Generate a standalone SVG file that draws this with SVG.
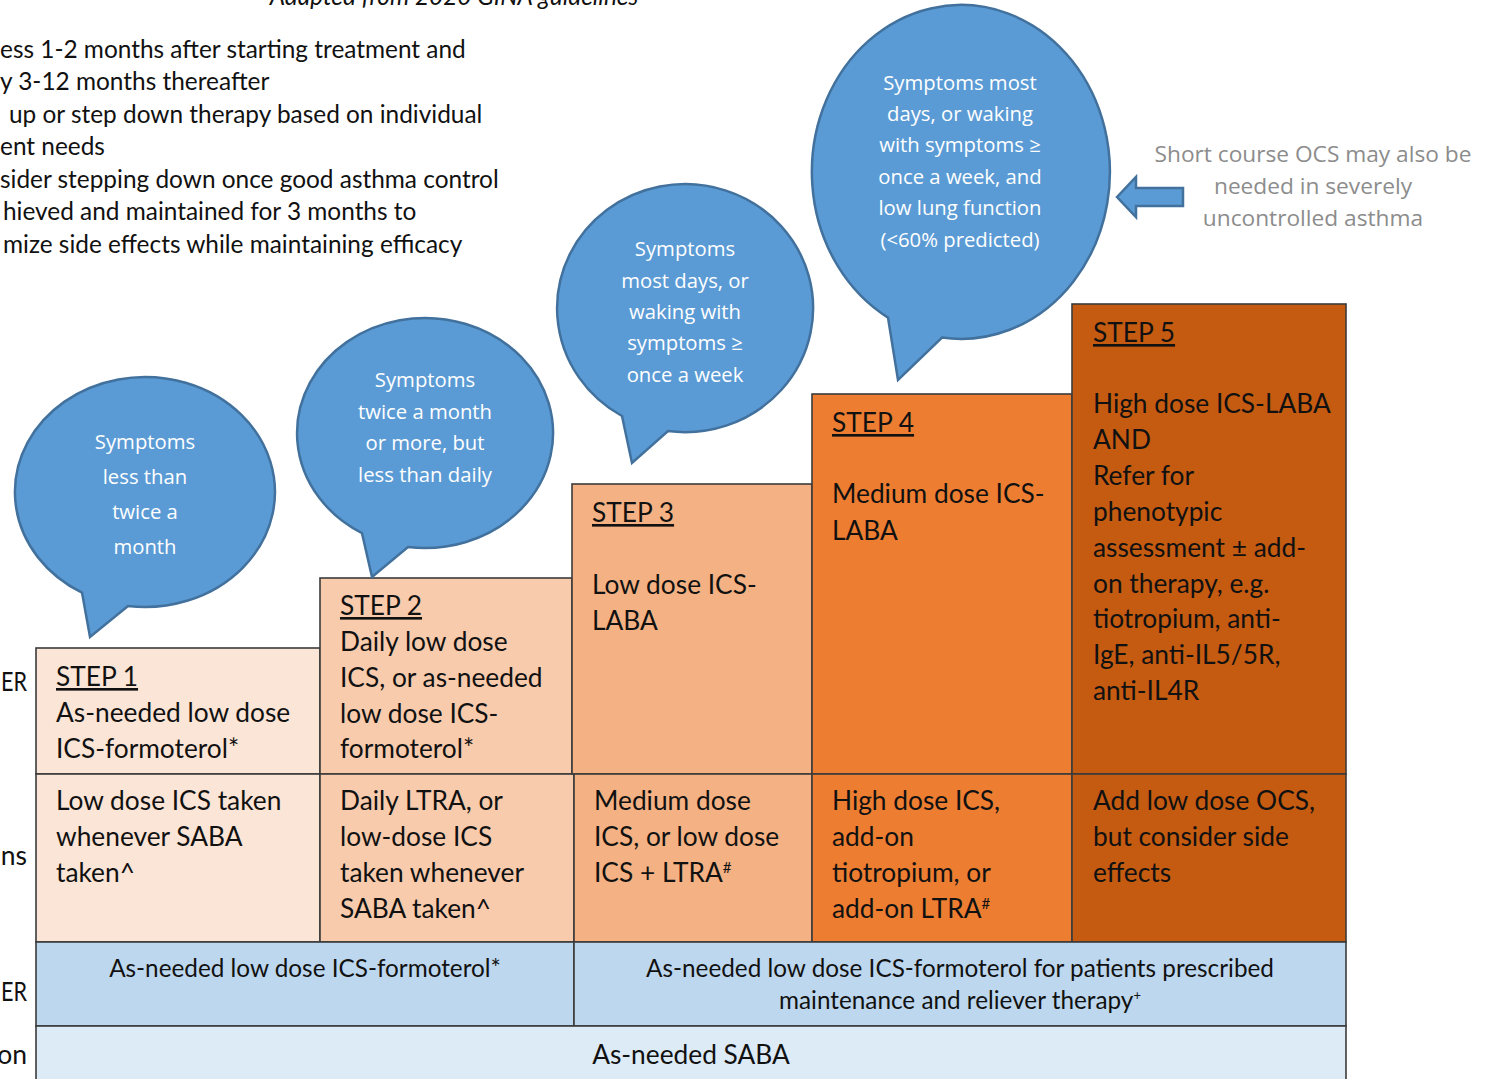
<svg xmlns="http://www.w3.org/2000/svg" width="1487" height="1079" viewBox="0 0 1487 1079">
<defs>
<style>
.box{stroke:#3b3b3b;stroke-width:1.6}
.t{font-family:Lato,"Liberation Sans",sans-serif;font-size:26.3px;fill:#111}
.s{text-decoration:underline}
.sm{font-family:Lato,"Liberation Sans",sans-serif;font-size:24.3px;fill:#111;text-anchor:middle}
.b{font-family:"Open Sans","Liberation Sans",sans-serif;font-size:20.3px;fill:#fff;text-anchor:middle}
.bub{fill:#5B9BD5;stroke:#41719C;stroke-width:2.5}
.g{font-family:"Open Sans","Liberation Sans",sans-serif;font-size:22.7px;fill:#8c8c8c;text-anchor:middle}
.top{font-family:Lato,"Liberation Sans",sans-serif;font-size:24.4px;fill:#111}
.edge{font-family:Lato,"Liberation Sans",sans-serif;font-size:26.5px;fill:#111;text-anchor:end}
</style>
</defs>
<rect width="1487" height="1079" fill="#fff"/>

<g id="header">
<text class="top" x="454" y="5" text-anchor="middle" font-style="italic">Adapted from 2020 GINA guidelines</text>
<text class="top" x="0" y="58">ess 1-2 months after starting treatment and</text>
<text class="top" x="0" y="90">y 3-12 months thereafter</text>
<text class="top" x="9" y="123">up or step down therapy based on individual</text>
<text class="top" x="0" y="155">ent needs</text>
<text class="top" x="0" y="188">sider stepping down once good asthma control</text>
<text class="top" x="3" y="220">hieved and maintained for 3 months to</text>
<text class="top" x="3" y="253">mize side effects while maintaining efficacy</text>
</g>

<g id="row-labels">
<text class="edge" x="27" y="691" textLength="26" lengthAdjust="spacingAndGlyphs">ER</text>
<text class="edge" x="27" y="865">ns</text>
<text class="edge" x="27" y="1001" textLength="26" lengthAdjust="spacingAndGlyphs">ER</text>
<text class="edge" x="27" y="1064">on</text>
</g>

<g id="step1">
<rect class="box" x="36" y="648" width="284" height="126" fill="#FBE5D6"/>
<rect class="box" x="36" y="774" width="284" height="168" fill="#FBE5D6"/>
<text class="t" x="56"><tspan class="s" y="686">STEP 1</tspan><tspan x="56" y="722">As-needed low dose</tspan><tspan x="56" y="758">ICS-formoterol*</tspan></text>
<text class="t" x="56"><tspan y="810">Low dose ICS taken</tspan><tspan x="56" y="846">whenever SABA</tspan><tspan x="56" y="882">taken^</tspan></text>
</g>

<g id="step2">
<rect class="box" x="320" y="578" width="252" height="196" fill="#F8CBAD"/>
<rect class="box" x="320" y="774" width="254" height="168" fill="#F8CBAD"/>
<text class="t" x="340"><tspan class="s" y="615">STEP 2</tspan><tspan x="340" y="651">Daily low dose</tspan><tspan x="340" y="687">ICS, or as-needed</tspan><tspan x="340" y="723">low dose ICS-</tspan><tspan x="340" y="758">formoterol*</tspan></text>
<text class="t" x="340"><tspan y="810">Daily LTRA, or</tspan><tspan x="340" y="846">low-dose ICS</tspan><tspan x="340" y="882">taken whenever</tspan><tspan x="340" y="918">SABA taken^</tspan></text>
</g>

<g id="step3">
<rect class="box" x="572" y="484" width="240" height="290" fill="#F4B183"/>
<rect class="box" x="574" y="774" width="238" height="168" fill="#F4B183"/>
<text class="t" x="592"><tspan class="s" y="522">STEP 3</tspan><tspan x="592" y="594">Low dose ICS-</tspan><tspan x="592" y="630">LABA</tspan></text>
<text class="t" x="594"><tspan y="810">Medium dose</tspan><tspan x="594" y="846">ICS, or low dose</tspan><tspan x="594" y="882">ICS + LTRA</tspan><tspan dy="-9" font-size="15">#</tspan></text>
</g>

<g id="step4">
<rect class="box" x="812" y="394" width="260" height="380" fill="#ED7D31"/>
<rect class="box" x="812" y="774" width="260" height="168" fill="#ED7D31"/>
<text class="t" x="832"><tspan class="s" y="432">STEP 4</tspan><tspan x="832" y="503">Medium dose ICS-</tspan><tspan x="832" y="540">LABA</tspan></text>
<text class="t" x="832"><tspan y="810">High dose ICS,</tspan><tspan x="832" y="846">add-on</tspan><tspan x="832" y="882">tiotropium, or</tspan><tspan x="832" y="918">add-on LTRA</tspan><tspan dy="-9" font-size="15">#</tspan></text>
</g>

<g id="step5">
<rect class="box" x="1072" y="304" width="274" height="470" fill="#C55A11"/>
<rect class="box" x="1072" y="774" width="274" height="168" fill="#C55A11"/>
<text class="t" x="1093"><tspan class="s" y="342">STEP 5</tspan><tspan x="1093" y="413">High dose ICS-LABA</tspan><tspan x="1093" y="449">AND</tspan><tspan x="1093" y="485">Refer for</tspan><tspan x="1093" y="521">phenotypic</tspan><tspan x="1093" y="557">assessment ± add-</tspan><tspan x="1093" y="593">on therapy, e.g.</tspan><tspan x="1093" y="628">tiotropium, anti-</tspan><tspan x="1093" y="664">IgE, anti-IL5/5R,</tspan><tspan x="1093" y="700">anti-IL4R</tspan></text>
<text class="t" x="1093"><tspan y="810">Add low dose OCS,</tspan><tspan x="1093" y="846">but consider side</tspan><tspan x="1093" y="882">effects</tspan></text>
</g>

<g id="reliever">
<rect class="box" x="36" y="942" width="538" height="84" fill="#BDD7EE"/>
<rect class="box" x="574" y="942" width="772" height="84" fill="#BDD7EE"/>
<text class="sm" x="305" y="977">As-needed low dose ICS-formoterol*</text>
<text class="sm" x="960" y="977">As-needed low dose ICS-formoterol for patients prescribed</text>
<text class="sm" x="960" y="1009">maintenance and reliever therapy<tspan dy="-9" font-size="13">+</tspan></text>
</g>

<g id="saba">
<rect class="box" x="36" y="1026" width="1310" height="60" fill="#DDEBF7"/>
<text class="t" x="691" y="1064" text-anchor="middle">As-needed SABA</text>
</g>

<g id="bubble1">
<path class="bub" d="M82,592.6 A130,115 0 1 1 128,606 L90,637 Z"/>
<text class="b" x="145" font-size="25.5"><tspan y="449">Symptoms</tspan><tspan x="145" y="484">less than</tspan><tspan x="145" y="519">twice a</tspan><tspan x="145" y="554">month</tspan></text>
</g>

<g id="bubble2">
<path class="bub" d="M362,533.1 A128,115 0 1 1 408,547 L372,577 Z"/>
<text class="b" x="425" font-size="21.2"><tspan y="387">Symptoms</tspan><tspan x="425" y="419">twice a month</tspan><tspan x="425" y="450">or more, but</tspan><tspan x="425" y="482">less than daily</tspan></text>
</g>

<g id="bubble3">
<path class="bub" d="M622,416 A128,124 0 1 1 668,431 L632,463 Z"/>
<text class="b" x="685"><tspan y="256">Symptoms</tspan><tspan x="685" y="288">most days, or</tspan><tspan x="685" y="319">waking with</tspan><tspan x="685" y="350">symptoms ≥</tspan><tspan x="685" y="382">once a week</tspan></text>
</g>

<g id="bubble4">
<path class="bub" d="M888,317.6 A149,167 0 1 1 942,337.6 L898,380 Z"/>
<text class="b" x="960"><tspan y="90">Symptoms most</tspan><tspan x="960" y="121">days, or waking</tspan><tspan x="960" y="152">with symptoms ≥</tspan><tspan x="960" y="184">once a week, and</tspan><tspan x="960" y="215">low lung function</tspan><tspan x="960" y="247">(&lt;60% predicted)</tspan></text>
</g>

<g id="connectors">
<polygon class="bub" stroke-width="2" points="1117,197 1136,177 1136,188 1183,188 1183,206 1136,206 1136,217"/>
</g>

<g id="note">
<text class="g" x="1313"><tspan y="162">Short course OCS may also be</tspan><tspan x="1313" y="194">needed in severely</tspan><tspan x="1313" y="226">uncontrolled asthma</tspan></text>
</g>
</svg>
